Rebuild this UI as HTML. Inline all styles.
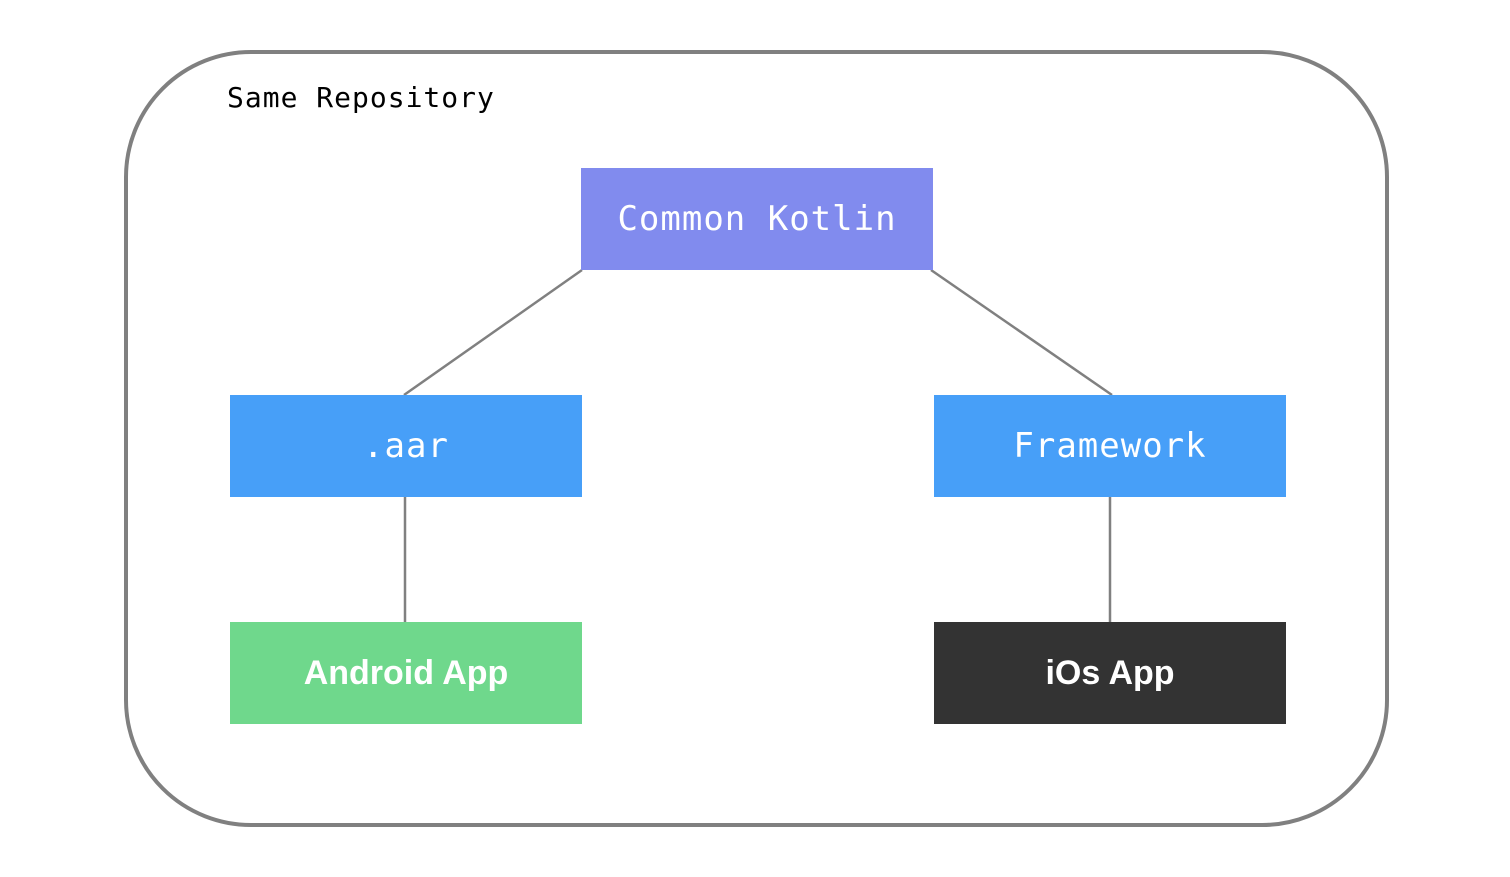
<!DOCTYPE html>
<html><head><style>
body{margin:0;background:#fff;width:1510px;height:877px;overflow:hidden;position:relative}
.b{position:absolute;width:352px;height:102px;display:flex;align-items:center;justify-content:center;color:#fff;font-size:34px}
.m{font-family:"DejaVu Sans Mono","Liberation Mono",monospace;letter-spacing:1px}
.s{font-family:"Liberation Sans",sans-serif;font-weight:bold;font-size:34px}
</style></head><body>
<svg width="1510" height="877" style="position:absolute;left:0;top:0">
<rect x="126" y="52" width="1261" height="773" rx="125" ry="125" fill="none" stroke="#808080" stroke-width="4"/>
<g stroke="#808080" stroke-width="2.5">
<line x1="582" y1="270" x2="404" y2="395"/>
<line x1="931" y1="270" x2="1112" y2="395"/>
<line x1="405" y1="497" x2="405" y2="622"/>
<line x1="1110" y1="497" x2="1110" y2="622"/>
</g>
<text x="227" y="107" font-family="DejaVu Sans Mono, Liberation Mono, monospace" font-size="28" letter-spacing="1" fill="#000">Same Repository</text>
</svg>
<div class="b m" style="left:581px;top:168px;background:#818bee">Common Kotlin</div>
<div class="b m" style="left:230px;top:395px;background:#479ff8">.aar</div>
<div class="b m" style="left:934px;top:395px;background:#479ff8">Framework</div>
<div class="b s" style="left:230px;top:622px;background:#6fd88c">Android App</div>
<div class="b s" style="left:934px;top:622px;background:#333">iOs App</div>
</body></html>
